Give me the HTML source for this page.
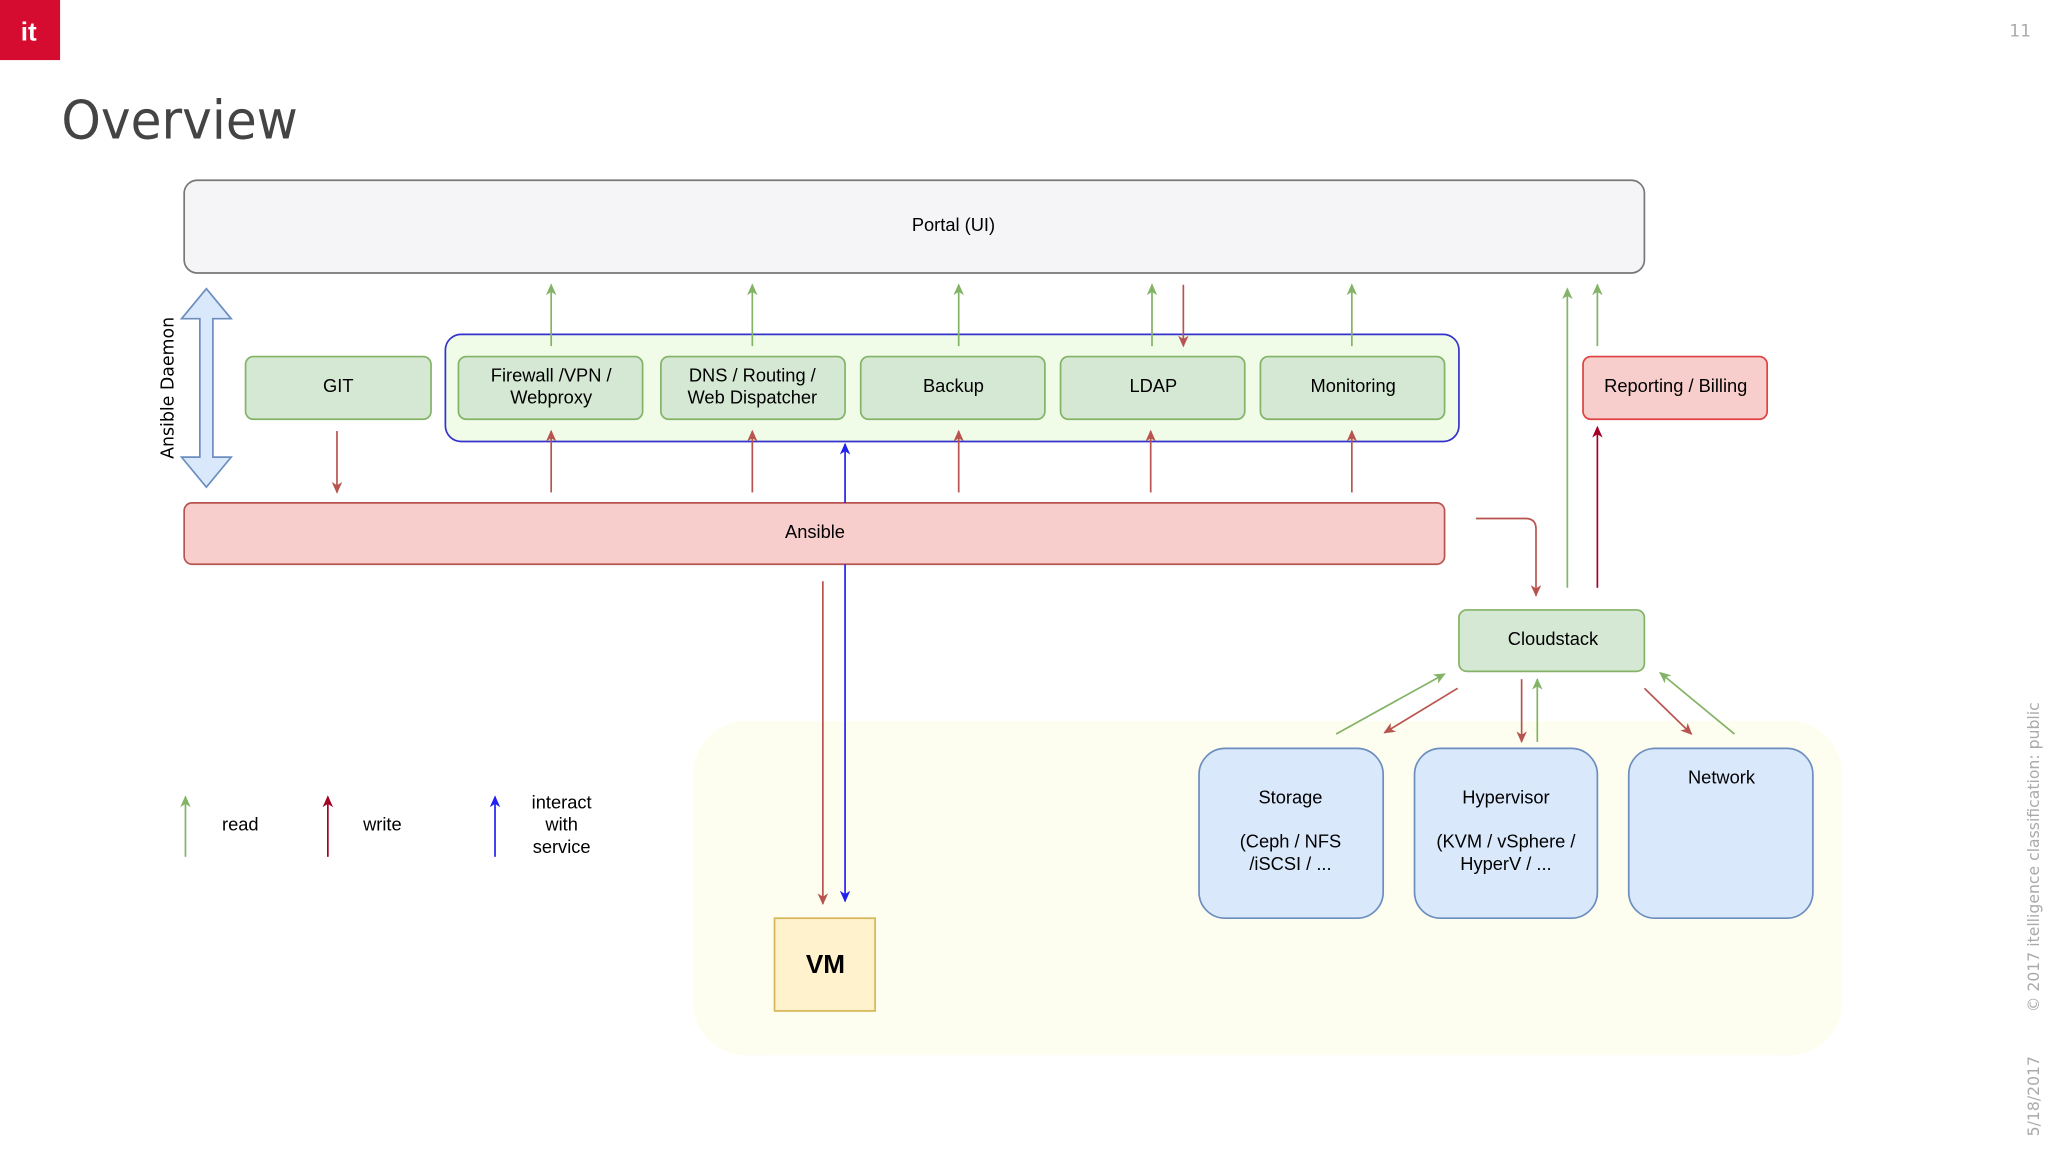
<!DOCTYPE html>
<html><head><meta charset="utf-8"><style>
html,body{margin:0;padding:0;background:#fff;}
svg{display:block;}
text{font-family:"Liberation Sans",sans-serif;}
</style></head><body>
<svg width="2048" height="1152" viewBox="0 0 1568 882" xmlns="http://www.w3.org/2000/svg">
<defs>
<marker id="mg" markerWidth="10" markerHeight="10" refX="8" refY="5" orient="auto" markerUnits="userSpaceOnUse"><path d="M0,1 L9,5 L0,9 L2.5,5z" fill="#82b366"/></marker>
<marker id="mr" markerWidth="10" markerHeight="10" refX="8" refY="5" orient="auto" markerUnits="userSpaceOnUse"><path d="M0,1 L9,5 L0,9 L2.5,5z" fill="#b85450"/></marker>
<marker id="md" markerWidth="10" markerHeight="10" refX="8" refY="5" orient="auto" markerUnits="userSpaceOnUse"><path d="M0,1 L9,5 L0,9 L2.5,5z" fill="#a20025"/></marker>
<marker id="mb" markerWidth="10" markerHeight="10" refX="8" refY="5" orient="auto" markerUnits="userSpaceOnUse"><path d="M0,1 L9,5 L0,9 L2.5,5z" fill="#2222ee"/></marker>
</defs>
<rect x="0" y="0" width="46" height="46" fill="#d50c2f"/>
<text x="22" y="31" fill="#fff" font-size="20" font-weight="bold" text-anchor="middle">it</text>
<text x="1555" y="28" fill="#aaa" font-size="13" text-anchor="end" style="font-family:'DejaVu Sans',sans-serif">11</text>
<text x="47" y="106" fill="#444" font-size="41" textLength="181" lengthAdjust="spacingAndGlyphs" style="font-family:'DejaVu Sans',sans-serif">Overview</text>

<rect x="531" y="552" width="879" height="256" rx="40" fill="#fefef0"/>

<rect x="141" y="138" width="1118" height="71" rx="10" fill="#f5f4f7" stroke="#777" stroke-width="1.3"/>
<text x="730" y="177" font-size="14" text-anchor="middle">Portal (UI)</text>

<path d="M158,221 L177,244 L163,244 L163,350 L177,350 L158,373 L139,350 L153,350 L153,244 L139,244 Z" fill="#dae8fc" stroke="#6c8ebf" stroke-width="1.3"/>
<text transform="translate(133,297) rotate(-90)" font-size="13.3" text-anchor="middle" style="font-family:'DejaVu Sans',sans-serif">Ansible Daemon</text>

<rect x="341" y="256" width="776" height="82" rx="12" fill="#f0fbe8" stroke="#3333cc" stroke-width="1.3"/>
<g fill="#d5e8d4" stroke="#82b366" stroke-width="1.3">
<rect x="188" y="273" width="142" height="48" rx="6"/>
<rect x="351" y="273" width="141" height="48" rx="6"/>
<rect x="506" y="273" width="141" height="48" rx="6"/>
<rect x="659" y="273" width="141" height="48" rx="6"/>
<rect x="812" y="273" width="141" height="48" rx="6"/>
<rect x="965" y="273" width="141" height="48" rx="6"/>
<rect x="1117" y="467" width="142" height="47" rx="6"/>
</g>
<rect x="1212" y="273" width="141" height="48" rx="6" fill="#f8cecc" stroke="#e04040" stroke-width="1.3"/>
<g font-size="14" text-anchor="middle">
<text x="259" y="300">GIT</text>
<text x="422" y="292">Firewall /VPN /</text><text x="422" y="309">Webproxy</text>
<text x="576" y="292">DNS / Routing /</text><text x="576" y="309">Web Dispatcher</text>
<text x="730" y="300">Backup</text>
<text x="883" y="300">LDAP</text>
<text x="1036" y="300">Monitoring</text>
<text x="1283" y="300">Reporting / Billing</text>
<text x="1189" y="494">Cloudstack</text>
</g>

<rect x="141" y="385" width="965" height="47" rx="6" fill="#f8cecc" stroke="#b85450" stroke-width="1.3"/>
<text x="624" y="412" font-size="14" text-anchor="middle">Ansible</text>

<g fill="#dae8fc" stroke="#6c8ebf" stroke-width="1.3">
<rect x="918" y="573" width="141" height="130" rx="20"/>
<rect x="1083" y="573" width="140" height="130" rx="20"/>
<rect x="1247" y="573" width="141" height="130" rx="20"/>
</g>
<g font-size="14" text-anchor="middle">
<text x="988" y="615">Storage</text><text x="988" y="649">(Ceph / NFS</text><text x="988" y="666">/iSCSI / ...</text>
<text x="1153" y="615">Hypervisor</text><text x="1153" y="649">(KVM / vSphere /</text><text x="1153" y="666">HyperV / ...</text>
<text x="1318" y="600">Network</text>
</g>

<rect x="593" y="703" width="77" height="71" fill="#fff2cc" stroke="#d6b656" stroke-width="1.3"/>
<text x="632" y="745" font-size="20" font-weight="bold" text-anchor="middle">VM</text>

<g stroke-width="1.3" fill="none">
<g stroke="#82b366" marker-end="url(#mg)">
<line x1="422" y1="265" x2="422" y2="218"/>
<line x1="576" y1="265" x2="576" y2="218"/>
<line x1="734" y1="265" x2="734" y2="218"/>
<line x1="882" y1="265" x2="882" y2="218"/>
<line x1="1035" y1="265" x2="1035" y2="218"/>
<line x1="1223" y1="265" x2="1223" y2="218"/>
<line x1="1200" y1="450" x2="1200" y2="221"/>
<line x1="1023" y1="562" x2="1106" y2="516"/>
<line x1="1177" y1="568" x2="1177" y2="520"/>
<line x1="1328" y1="562" x2="1271" y2="515"/>
<line x1="142" y1="656" x2="142" y2="610"/>
</g>
<g stroke="#b85450" marker-end="url(#mr)">
<line x1="906" y1="218" x2="906" y2="265"/>
<line x1="258" y1="330" x2="258" y2="377"/>
<line x1="422" y1="377" x2="422" y2="330"/>
<line x1="576" y1="377" x2="576" y2="330"/>
<line x1="734" y1="377" x2="734" y2="330"/>
<line x1="881" y1="377" x2="881" y2="330"/>
<line x1="1035" y1="377" x2="1035" y2="330"/>
<line x1="630" y1="445" x2="630" y2="692"/>
<path d="M1130,397 L1168,397 Q1176,397 1176,405 L1176,456"/>
<line x1="1116" y1="527" x2="1060" y2="561"/>
<line x1="1165" y1="520" x2="1165" y2="568"/>
<line x1="1259" y1="527" x2="1295" y2="562"/>
</g>
<g stroke="#a20025" marker-end="url(#md)">
<line x1="1223" y1="450" x2="1223" y2="327"/>
<line x1="251" y1="656" x2="251" y2="610"/>
</g>
<g stroke="#2222ee" marker-end="url(#mb)">
<line x1="647" y1="385" x2="647" y2="340"/>
<line x1="647" y1="432" x2="647" y2="690"/>
<line x1="379" y1="656" x2="379" y2="610"/>
</g>
</g>
<g font-size="14">
<text x="170" y="636">read</text>
<text x="278" y="636">write</text>
<text x="430" y="619" text-anchor="middle">interact</text>
<text x="430" y="636" text-anchor="middle">with</text>
<text x="430" y="653" text-anchor="middle">service</text>
</g>
<g fill="#aaa" font-size="12">
<text transform="translate(1561,775) rotate(-90)" style="font-family:'DejaVu Sans',sans-serif">© 2017  itelligence    classification:  public</text>
<text transform="translate(1561,870) rotate(-90)" style="font-family:'DejaVu Sans',sans-serif">5/18/2017</text>
</g>
</svg>
</body></html>
